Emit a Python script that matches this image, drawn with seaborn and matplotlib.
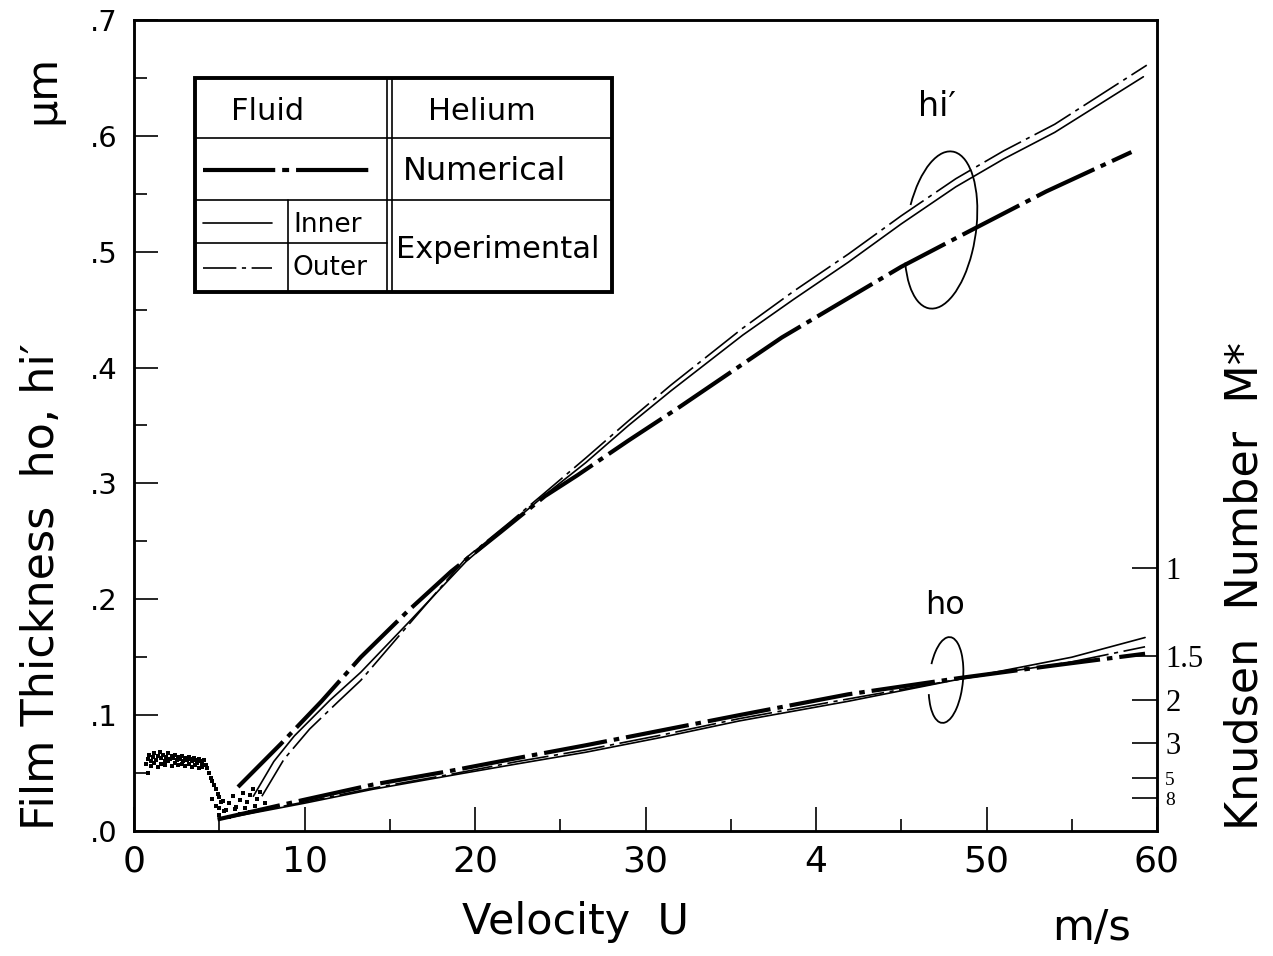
import numpy as np
import pandas as pd
import matplotlib
matplotlib.use("Agg")
import matplotlib.pyplot as plt
from matplotlib.patches import Arc, Rectangle
from matplotlib.lines import Line2D
import seaborn as sns

# ---------------- data ----------------
# h_i' group
U_hi_num = [6.1, 8.6, 11.0, 13.3, 16.0, 18.6, 21.5, 24.1, 26.0, 29.0, 32.0, 35.0, 38.0, 41.9, 45.0, 48.9, 53.5, 58.5]
h_hi_num = [0.038, 0.075, 0.112, 0.150, 0.189, 0.224, 0.258, 0.289, 0.307, 0.337, 0.366, 0.396, 0.426, 0.460, 0.487, 0.517, 0.552, 0.586]

U_hi_inner = [7.0, 8.2, 9.4, 11.5, 13.3, 16.1, 19.5, 22.0, 24.1, 26.5, 29.0, 31.5, 35.7, 38.7, 41.9, 45.0, 48.2, 51.0, 54.0, 59.2]
h_hi_inner = [0.030, 0.060, 0.082, 0.113, 0.137, 0.180, 0.233, 0.264, 0.290, 0.318, 0.350, 0.380, 0.428, 0.459, 0.491, 0.524, 0.556, 0.580, 0.603, 0.651]

U_hi_outer = [7.5, 8.8, 10.3, 12.0, 13.3, 16.1, 19.5, 22.0, 24.1, 26.5, 29.0, 31.5, 35.7, 38.7, 41.9, 45.0, 48.2, 51.0, 54.0, 59.4]
h_hi_outer = [0.030, 0.062, 0.088, 0.112, 0.130, 0.178, 0.236, 0.266, 0.292, 0.322, 0.354, 0.385, 0.434, 0.466, 0.498, 0.531, 0.563, 0.587, 0.610, 0.661]

# h_o group
U_ho_num = [4.9, 10.0, 14.0, 18.6, 22.5, 26.5, 31.0, 35.5, 41.9, 48.4, 54.0, 59.3]
h_ho_num = [0.010, 0.027, 0.040, 0.052, 0.063, 0.074, 0.087, 0.100, 0.118, 0.132, 0.143, 0.153]

U_ho_inner = [5.0, 10.0, 14.0, 18.6, 22.5, 26.5, 31.0, 35.5, 41.9, 48.4, 55.0, 59.3]
h_ho_inner = [0.010, 0.024, 0.036, 0.048, 0.058, 0.068, 0.081, 0.095, 0.112, 0.131, 0.150, 0.167]

U_ho_outer = [5.5, 10.0, 14.0, 18.6, 22.5, 26.5, 31.0, 35.5, 41.9, 48.4, 55.0, 59.3]
h_ho_outer = [0.012, 0.025, 0.037, 0.049, 0.060, 0.070, 0.083, 0.097, 0.114, 0.131, 0.146, 0.159]

# noisy measured points at low speed
noise_U = [0.7, 0.8, 0.9, 1.0, 1.1, 1.2, 1.3, 1.4, 1.5, 1.6, 1.7, 1.8, 1.9, 2.0, 2.1, 2.2, 2.3, 2.4,
           2.5, 2.6, 2.7, 2.8, 2.9, 3.0, 3.1, 3.2, 3.3, 3.4, 3.5, 3.6, 3.7, 3.8, 3.9, 4.0, 4.1, 4.2,
           0.8, 1.0, 1.2, 1.4, 1.6, 1.8, 2.0, 2.2, 2.4, 2.6, 2.8, 3.0, 3.2, 3.4, 3.6, 3.8, 4.0,
           4.3, 4.4, 4.5, 4.6, 4.7, 4.8, 4.9, 5.0, 5.1,
           4.6, 4.8, 5.0, 5.2, 5.4, 5.6, 5.8, 6.0, 6.2, 6.4, 6.6, 6.8, 7.0, 7.2, 7.4,
           5.0, 5.3, 5.6, 5.9, 6.2, 6.5, 6.8, 7.1, 7.4, 7.7]
noise_h = [0.058, 0.062, 0.066, 0.060, 0.064, 0.067, 0.061, 0.065, 0.068, 0.063, 0.066, 0.060, 0.064, 0.067,
           0.062, 0.065, 0.063, 0.066, 0.061, 0.064, 0.062, 0.065, 0.060, 0.063, 0.061, 0.064, 0.062, 0.060,
           0.063, 0.061, 0.059, 0.062, 0.060, 0.058, 0.061, 0.057,
           0.050, 0.056, 0.059, 0.055, 0.058, 0.057, 0.060, 0.056, 0.059, 0.057, 0.058, 0.056, 0.058, 0.055,
           0.057, 0.054, 0.055,
           0.054, 0.050, 0.046, 0.043, 0.040, 0.036, 0.032, 0.029, 0.025,
           0.028, 0.022, 0.020, 0.026, 0.018, 0.024, 0.030, 0.021, 0.027, 0.033, 0.025, 0.031, 0.036, 0.028, 0.034,
           0.014, 0.017, 0.012, 0.019, 0.015, 0.020, 0.016, 0.022, 0.018, 0.024]

x_ticks = [0, 10, 20, 30, 40, 50, 60]
x_tick_labels = ["0", "10", "20", "30", "4", "50", "60"]
y_ticks = [0.0, 0.1, 0.2, 0.3, 0.4, 0.5, 0.6, 0.7]
y_tick_labels = [".0", ".1", ".2", ".3", ".4", ".5", ".6", ".7"]
knudsen_values = [1, 1.5, 2, 3, 5, 8]
knudsen_labels = ["1", "1.5", "2", "3", "5", "8"]
knudsen_ref_h = 0.227  # film thickness where M* = 1

# ---------------- style ----------------
sns.set_style("ticks")
plt.rcParams["font.family"] = ["DejaVu Sans"]
plt.rcParams["lines.scale_dashes"] = False
for k in ["text.color", "axes.labelcolor", "xtick.color", "ytick.color", "axes.edgecolor"]:
    plt.rcParams[k] = "black"

W, H = 1273, 956
fig = plt.figure(figsize=(W / 100, H / 100), dpi=100)
L, R, T, B = 134, 1157, 20, 831
ax = fig.add_axes([L / W, 1 - B / H, (R - L) / W, (B - T) / H])

NUM_LS = (0, (46, 5, 4, 5))
OUT_LS = (0, (30, 4, 3, 4))

def line(x, y, lw, ls):
    df = pd.DataFrame({"U": x, "h": y})
    sns.lineplot(data=df, x="U", y="h", ax=ax, color="black", lw=lw, linestyle=ls,
                 sort=False, estimator=None, legend=False)

line(U_hi_inner, h_hi_inner, 1.2, "-")
line(U_hi_outer, h_hi_outer, 1.2, OUT_LS)
line(U_hi_num, h_hi_num, 3.0, NUM_LS)
line(U_ho_inner, h_ho_inner, 1.2, "-")
line(U_ho_outer, h_ho_outer, 1.2, OUT_LS)
line(U_ho_num, h_ho_num, 3.0, NUM_LS)

sns.scatterplot(x=noise_U, y=noise_h, ax=ax, color="black", s=12, marker="s",
                linewidth=0, legend=False)

ax.set_xlim(0, 60)
ax.set_ylim(0, 0.7)
ax.set_xlabel("")
ax.set_ylabel("")

for s in ax.spines.values():
    s.set_linewidth(1.8)
    s.set_visible(True)
    s.set_color("black")

ax.set_xticks(x_ticks)
ax.set_xticklabels(x_tick_labels, fontsize=26)
ax.set_xticks(np.arange(5, 60, 10), minor=True)
ax.set_yticks(y_ticks)
ax.set_yticklabels(y_tick_labels, fontsize=21)
ax.set_yticks(np.arange(0.05, 0.7, 0.1), minor=True)
ax.tick_params(axis="both", which="major", direction="in", length=17, width=1.2,
               top=False, right=False)
ax.tick_params(axis="both", which="minor", direction="in", length=9, width=1.2,
               top=False, right=False)
ax.tick_params(axis="x", which="major", pad=10)
ax.tick_params(axis="y", which="major", pad=12)

# right Knudsen axis
ax2 = ax.twinx()
ax2.set_ylim(0, 0.7)
ax2.set_yticks([knudsen_ref_h / m for m in knudsen_values])
ax2.set_yticklabels(knudsen_labels, family="Liberation Serif")
for lab, m in zip(ax2.get_yticklabels(), knudsen_values):
    lab.set_fontsize(14 if m >= 5 else 22)
ax2.tick_params(axis="y", direction="in", length=18, width=1.2, pad=6)
ax2.set_ylabel("")
for s in ax2.spines.values():
    s.set_linewidth(1.8)
    s.set_color("black")

# ---------------- table-style legend ----------------
def ax_xy(px, py):
    return ((px - L) / (R - L), (B - py) / (B - T))

tr = ax.transAxes
x0, y1 = ax_xy(195, 78)
x1, y0 = ax_xy(612, 292)
ax.add_patch(Rectangle((x0, y0), x1 - x0, y1 - y0, transform=tr, fill=True,
                       facecolor="white", edgecolor="black", lw=2.8, zorder=5))

def seg(p1, p2, lw=1.2, ls="-"):
    a = ax_xy(*p1)
    b = ax_xy(*p2)
    ax.add_line(Line2D([a[0], b[0]], [a[1], b[1]], transform=tr, color="black",
                       lw=lw, linestyle=ls, zorder=6))

seg((387, 78), (387, 292))
seg((392, 78), (392, 292))
seg((195, 138), (612, 138))
seg((195, 200), (612, 200))
seg((195, 243), (387, 243))
seg((288, 200), (288, 292))
seg((203, 170), (373, 170), lw=3.0, ls=(0, (52, 5, 5, 5)))
seg((203, 223), (272, 223), lw=1.2)
seg((203, 268), (272, 268), lw=1.2, ls=(0, (24, 4, 3, 4)))

def txt(px, py, s, size, **kw):
    a = ax_xy(px, py)
    ax.text(a[0], a[1], s, transform=tr, fontsize=size, ha="center", va="center",
            zorder=7, **kw)

txt(268, 112, "Fluid", 22)
txt(482, 112, "Helium", 22)
txt(485, 171, "Numerical", 23)
txt(328, 225, "Inner", 19)
txt(330, 268, "Outer", 19)
txt(498, 250, "Experimental", 22)

# group annotations with open ellipses
txt(937, 106, "hi′", 24)
txt(945, 605, "ho", 23)
c = ax_xy(941, 230)
ax.add_patch(Arc(c, 70 / (R - L), 158 / (B - T), angle=-6, theta1=-125, theta2=140,
                 transform=tr, color="black", lw=1.3, zorder=6))
c = ax_xy(946, 680)
ax.add_patch(Arc(c, 34 / (R - L), 86 / (B - T), angle=-4, theta1=-130, theta2=130,
                 transform=tr, color="black", lw=1.3, zorder=6))

# ---------------- axis titles ----------------
fig.text(42 / W, 1 - 830 / H, "Film Thickness  ho, hi′", rotation=90, ha="center",
         va="bottom", fontsize=32)
fig.text(42 / W, 1 - 89 / H, "µm", rotation=90, ha="center", va="center", fontsize=31)
fig.text(576 / W, 1 - 922 / H, "Velocity  U", ha="center", va="center", fontsize=31)
fig.text(1092 / W, 1 - 928 / H, "m/s", ha="center", va="center", fontsize=31)
fig.text(1245 / W, 1 - 830 / H, "Knudsen  Number  M*", rotation=90, ha="center",
         va="bottom", fontsize=32)

fig.savefig("out.png", dpi=100, facecolor="white")
